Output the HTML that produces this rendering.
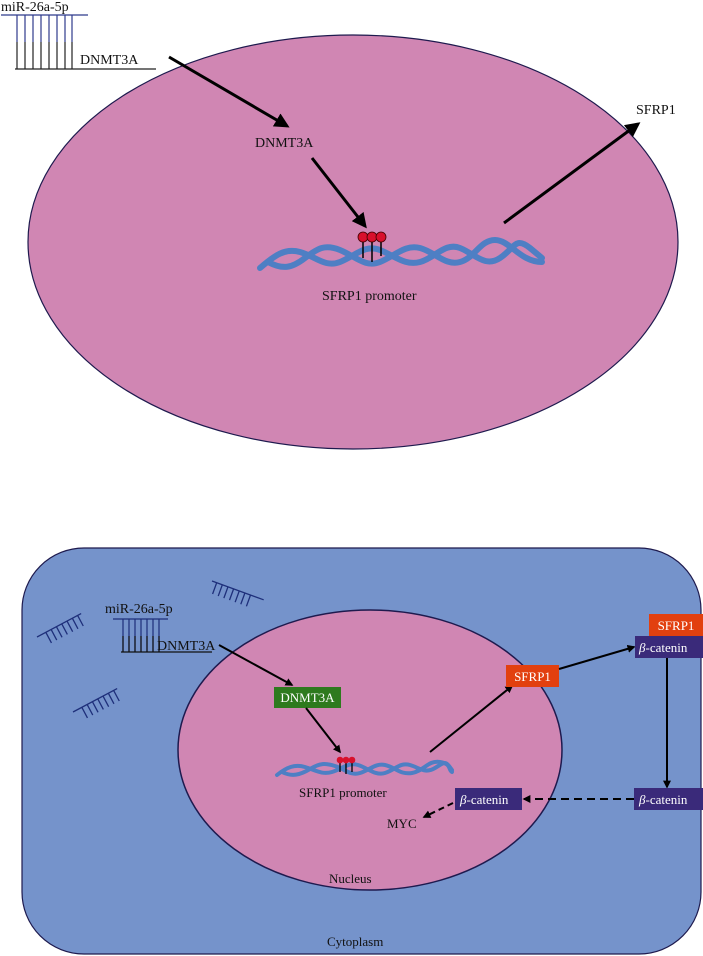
<!DOCTYPE html>
<html><head><meta charset="utf-8"><style>
html,body{margin:0;padding:0;background:#fff;}
svg{display:block;font-family:"Liberation Serif",serif;}
</style></head><body>
<svg width="703" height="956" viewBox="0 0 703 956" xmlns="http://www.w3.org/2000/svg">
<defs>
<marker id="ah" viewBox="0 0 10 10" refX="8" refY="5" markerWidth="5" markerHeight="5" orient="auto"><path d="M0,0 L10,5 L0,10 z" fill="#000"/></marker>
<marker id="ah2" viewBox="0 0 10 10" refX="8" refY="5" markerWidth="4" markerHeight="4" orient="auto"><path d="M0,0 L10,5 L0,10 z" fill="#000"/></marker>
</defs>
<g>
<ellipse cx="353" cy="242" rx="325" ry="207" fill="#d086b3" stroke="#1e1a4e" stroke-width="1.2"/>
<g>
<text x="1" y="11" font-size="14" fill="#111">miR-26a-5p</text>
<line x1="1" y1="15" x2="88" y2="15" stroke="#2e3a8c" stroke-width="1.3"/>
<g stroke="#2e3a8c" stroke-width="1.2">
<line x1="17" y1="15" x2="17" y2="42"/><line x1="25" y1="15" x2="25" y2="42"/><line x1="33" y1="15" x2="33" y2="42"/><line x1="41" y1="15" x2="41" y2="42"/><line x1="49" y1="15" x2="49" y2="42"/><line x1="57" y1="15" x2="57" y2="42"/><line x1="65" y1="15" x2="65" y2="42"/><line x1="72" y1="15" x2="72" y2="42"/></g>
<g stroke="#222" stroke-width="1.2">
<line x1="17" y1="42" x2="17" y2="69"/><line x1="25" y1="42" x2="25" y2="69"/><line x1="33" y1="42" x2="33" y2="69"/><line x1="41" y1="42" x2="41" y2="69"/><line x1="49" y1="42" x2="49" y2="69"/><line x1="57" y1="42" x2="57" y2="69"/><line x1="65" y1="42" x2="65" y2="69"/><line x1="72" y1="42" x2="72" y2="69"/></g>
<line x1="15" y1="69" x2="156" y2="69" stroke="#222" stroke-width="1.3"/>
<text x="80" y="64" font-size="14" fill="#111">DNMT3A</text>
</g>
<line x1="169" y1="57" x2="287" y2="126" stroke="#000" stroke-width="3" marker-end="url(#ah)"/>
<text x="255" y="147" font-size="14" fill="#111">DNMT3A</text>
<line x1="312" y1="158" x2="365" y2="226" stroke="#000" stroke-width="3" marker-end="url(#ah)"/>
<line x1="504" y1="223" x2="638" y2="124" stroke="#000" stroke-width="3" marker-end="url(#ah)"/>
<text x="636" y="114" font-size="14" fill="#111">SFRP1</text>
<g fill="none" stroke="#4e7fc4" stroke-width="6" stroke-linecap="round">
<path d="M260,268 C275,255 285,248 300,252 S325,268 340,262 S365,244 380,250 S405,266 420,262 S445,242 460,248 S485,268 500,258 S515,236 530,248 L542,258"/>
<path d="M268,262 C283,270 292,268 305,258 S325,244 340,250 S365,268 380,262 S405,244 420,248 S445,266 460,262 S480,240 495,240 S520,262 542,262"/>
</g>
<g>
<line x1="363" y1="237" x2="363" y2="258" stroke="#000" stroke-width="1.5"/><line x1="372" y1="237" x2="372" y2="262" stroke="#000" stroke-width="1.5"/><line x1="381" y1="237" x2="381" y2="256" stroke="#000" stroke-width="1.5"/>
<circle cx="363" cy="237" r="5" fill="#d8102c" stroke="#400" stroke-width="0.8"/><circle cx="372" cy="237" r="5" fill="#d8102c" stroke="#400" stroke-width="0.8"/><circle cx="381" cy="237" r="5" fill="#d8102c" stroke="#400" stroke-width="0.8"/>
</g>
<text x="322" y="300" font-size="14" fill="#111">SFRP1 promoter</text>
</g>
<g>
<rect x="22" y="548" width="679" height="406" rx="62" fill="#7593cb" stroke="#1e1a4e" stroke-width="1.2"/>
<ellipse cx="370" cy="750" rx="192" ry="140" fill="#d086b3" stroke="#1e1a4e" stroke-width="1.5"/>
<g stroke="#1e2f7a" stroke-width="1.3" fill="none">
<g transform="translate(37,637) rotate(-28)"><line x1="0" y1="0" x2="50" y2="0"/><path d="M10,0v12M16,0v12M22,0v12M28,0v12M34,0v12M40,0v12M46,0v12"/></g>
<g transform="translate(73,712) rotate(-28)"><line x1="0" y1="0" x2="50" y2="0"/><path d="M10,0v12M16,0v12M22,0v12M28,0v12M34,0v12M40,0v12M46,0v12"/></g>
<g transform="translate(212,581) rotate(20)"><line x1="0" y1="0" x2="55" y2="0"/><path d="M5,0v12M11,0v12M17,0v12M23,0v12M29,0v12M35,0v12M41,0v12"/></g>
</g>
<g>
<text x="105" y="613" font-size="14" fill="#111">miR-26a-5p</text>
<line x1="113" y1="619" x2="168" y2="619" stroke="#1e2f7a" stroke-width="1.3"/>
<path d="M123,619v33M129,619v33M135,619v33M141,619v33M147,619v33M153,619v33M159,619v33" stroke="#1e2f7a" stroke-width="1.2"/>
<path d="M123,636v16M129,636v16M135,636v16M141,636v16M147,636v16M153,636v16M159,636v16" stroke="#111" stroke-width="1.2"/>
<line x1="121" y1="652" x2="212" y2="652" stroke="#111" stroke-width="1.3"/>
<text x="157" y="650" font-size="14" fill="#111">DNMT3A</text>
</g>
<line x1="219" y1="645" x2="292" y2="685" stroke="#000" stroke-width="2" marker-end="url(#ah2)"/>
<rect x="274" y="687" width="67" height="21" fill="#2e7a1e"/>
<text x="307.5" y="702" font-size="13" fill="#fff" text-anchor="middle">DNMT3A</text>
<line x1="306" y1="708" x2="340" y2="752" stroke="#000" stroke-width="2" marker-end="url(#ah2)"/>
<g fill="none" stroke="#4e7fc4" stroke-width="4" stroke-linecap="round">
<path d="M277,775 C287,767 295,764 305,767 S322,775 332,772 S348,762 358,765 S375,776 385,773 S400,762 410,765 S425,774 435,768 S445,760 452,770"/>
<path d="M282,772 C292,777 300,775 310,769 S325,763 335,766 S350,776 360,773 S375,763 385,765 S400,775 412,773 S428,760 440,762 S448,770 452,772"/>
</g>
<g>
<path d="M340,760v12M346,760v14M352,760v12" stroke="#000" stroke-width="1.3"/>
<circle cx="340" cy="760" r="3.3" fill="#d8102c"/><circle cx="346" cy="760" r="3.3" fill="#d8102c"/><circle cx="352" cy="760" r="3.3" fill="#d8102c"/>
</g>
<text x="299" y="797" font-size="13" fill="#111">SFRP1 promoter</text>
<line x1="430" y1="752" x2="512" y2="686" stroke="#000" stroke-width="2" marker-end="url(#ah2)"/>
<rect x="506" y="665" width="53" height="22" fill="#e2400f"/>
<text x="532.5" y="681" font-size="13" fill="#fff" text-anchor="middle">SFRP1</text>
<line x1="559" y1="669" x2="634" y2="647" stroke="#000" stroke-width="2" marker-end="url(#ah2)"/>
<rect x="649" y="614" width="54" height="22" fill="#e2400f"/>
<text x="676" y="630" font-size="13" fill="#fff" text-anchor="middle">SFRP1</text>
<rect x="635" y="636" width="68" height="22" fill="#3a2a7a"/>
<text x="639" y="652" font-size="13" fill="#fff"><tspan font-style="italic">β</tspan>-catenin</text>
<line x1="667" y1="658" x2="667" y2="787" stroke="#000" stroke-width="2" marker-end="url(#ah2)"/>
<rect x="634" y="788" width="69" height="22" fill="#3a2a7a"/>
<text x="639" y="804" font-size="13" fill="#fff"><tspan font-style="italic">β</tspan>-catenin</text>
<line x1="634" y1="799" x2="524" y2="799" stroke="#000" stroke-width="2" stroke-dasharray="8,5" marker-end="url(#ah2)"/>
<rect x="455" y="788" width="67" height="22" fill="#3a2a7a"/>
<text x="460" y="804" font-size="13" fill="#fff"><tspan font-style="italic">β</tspan>-catenin</text>
<line x1="453" y1="803" x2="424" y2="817" stroke="#000" stroke-width="2" stroke-dasharray="6,4" marker-end="url(#ah2)"/>
<text x="387" y="828" font-size="13" fill="#111">MYC</text>
<text x="329" y="883" font-size="13" fill="#111">Nucleus</text>
<text x="327" y="946" font-size="13" fill="#111">Cytoplasm</text>
</g>
</svg>
</body></html>
